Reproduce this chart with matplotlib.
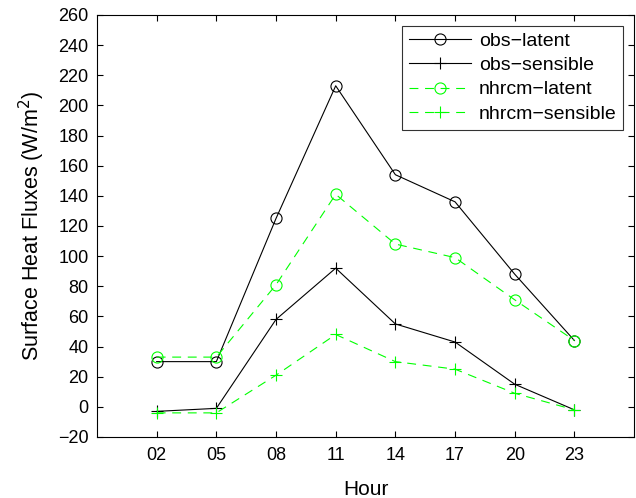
import matplotlib
matplotlib.use("Agg")
import matplotlib.pyplot as plt

hours = [2, 5, 8, 11, 14, 17, 20, 23]
hour_labels = ["02", "05", "08", "11", "14", "17", "20", "23"]
obs_latent = [30, 30, 125, 213, 154, 136, 88, 44]
obs_sensible = [-3, -1, 58, 92, 55, 43, 15, -2]
nhrcm_latent = [33, 33, 81, 141, 108, 99, 71, 44]
nhrcm_sensible = [-4, -4, 21, 48, 30, 25, 9, -2]
yticks = list(range(-20, 261, 20))

plt.rcParams['font.family'] = ['Liberation Sans', 'DejaVu Sans']
fig = plt.figure(figsize=(6.36, 4.98), dpi=100)
ax = fig.add_axes([0.1525, 0.1225, 0.8445, 0.8475])

green = '#00ff00'
dash = (0, (8, 6))
ax.plot(hours, obs_latent, color='black', lw=0.8, marker='o', ms=8, mfc='none', mew=0.8, label='obs\u2212latent')
ax.plot(hours, obs_sensible, color='black', lw=0.8, marker='+', ms=8.5, mew=0.8, label='obs\u2212sensible')
ax.plot(hours, nhrcm_latent, color=green, lw=0.8, ls=dash, marker='o', ms=8, mfc='none', mew=0.8, label='nhrcm\u2212latent')
ax.plot(hours, nhrcm_sensible, color=green, lw=0.8, ls=dash, marker='+', ms=8.5, mew=0.8, label='nhrcm\u2212sensible')

ax.set_xlim(-1, 26)
ax.set_ylim(-20, 260)
ax.set_xticks(hours)
ax.set_xticklabels(hour_labels)
ax.set_yticks(yticks)
ax.tick_params(direction='in', top=True, right=True, labelsize=13, length=4, pad=6)
ax.tick_params(axis='x', pad=7)
ax.set_xlabel('Hour', fontsize=15, labelpad=12)
ax.set_ylabel('Surface Heat Fluxes (W/m$^2$)', fontsize=15.5, labelpad=8)
for s in ax.spines.values():
    s.set_linewidth(0.8)

leg = ax.legend(loc='upper right', fontsize=14, frameon=True, fancybox=False,
                edgecolor='black', borderaxespad=0.55, handlelength=3.2,
                handletextpad=0.4, labelspacing=0.34, borderpad=0.35)
leg.get_frame().set_linewidth(0.8)

fig.savefig('out.png', dpi=100)
